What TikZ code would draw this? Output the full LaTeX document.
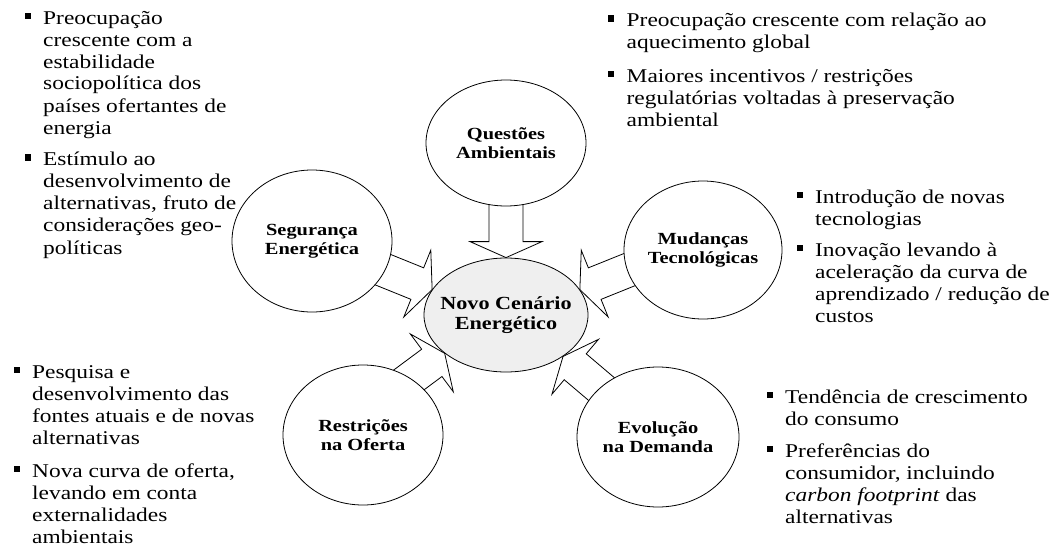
\documentclass[tikz,border=0pt]{standalone}
\usepackage{fontspec}
\setmainfont[FakeStretch=1.2]{Liberation Serif}
\usetikzlibrary{shapes.geometric,calc,backgrounds}

\definecolor{hubgrey}{RGB}{239,239,239}
\newcommand\blt{\rule[5.5pt]{6pt}{6pt}}

\tikzset{
  factor/.style={ellipse, draw, line width=0.8pt, fill=white, inner sep=-12pt,
    align=center, font=\fontsize{17}{19}\selectfont\bfseries},
  hub/.style={factor, fill=hubgrey, font=\fontsize{18.5}{20.5}\selectfont\bfseries},
  note/.style={anchor=base west, inner sep=0pt, font=\fontsize{19.5}{22}\selectfont},
  % hollow block arrow from a tail point to a tip point
  blockarrow/.style={draw, fill=white, line width=0.8pt, line join=miter,
    to path={
      let \p1=($(\tikztotarget)!16pt!(\tikztostart)$) in
      ($(\tikztostart)!17pt!90:(\tikztotarget)$)
      -- ($(\p1)!17pt!90:(\tikztotarget)$)
      -- ($(\p1)!36pt!90:(\tikztotarget)$)
      -- (\tikztotarget)
      -- ($(\p1)!36pt!-90:(\tikztotarget)$)
      -- ($(\p1)!17pt!-90:(\tikztotarget)$)
      -- ($(\tikztostart)!17pt!-90:(\tikztotarget)$)
      -- cycle}},
}

\begin{document}
\begin{tikzpicture}[x=1pt,y=-1pt]
\useasboundingbox (0,0) rectangle (1061,546);

% central theme and the five driving factors
\node[hub, minimum width=164pt, minimum height=114pt] (novo) at (506,315) {Novo Cenário\\Energético};
\node[factor, minimum width=160pt, minimum height=126pt] (questoes) at (506,143) {Questões\\Ambientais};
\node[factor, minimum width=160pt, minimum height=142pt] (seguranca) at (312,241) {Segurança\\Energética};
\node[factor, minimum width=158pt, minimum height=138pt] (mudancas) at (703,250) {Mudanças\\Tecnológicas};
\node[factor, minimum width=160pt, minimum height=140pt] (restricoes) at (363,435) {Restrições\\na Oferta};
\node[factor, minimum width=162pt, minimum height=140pt] (evolucao) at (658,437) {Evolução\\na Demanda};

\coordinate (mudTail) at ($(mudancas)+(0,-10)$);
\coordinate (resTail) at ($(restricoes)+(0,-21)$);

% block arrows pointing into the central theme
\begin{pgfonlayer}{background}
\draw[blockarrow] (questoes) to (novo.north);
\draw[blockarrow] (seguranca) to (novo.161);
\draw[blockarrow] (mudTail) to (novo.19);
\draw[blockarrow] (resTail) to (novo.212);
\draw[blockarrow] (evolucao) to (novo.324);
\end{pgfonlayer}

% bullet notes
\node[note] (notesSeg) at (24.5,24) {\begin{tabular}[t]{@{}l@{\hspace{12.5pt}}l@{}}
\blt & Preocupação\\
 & crescente com a\\
 & estabilidade\\
 & sociopolítica dos\\
 & países ofertantes de\\
 & energia\\[10pt]
\blt & Estímulo ao\\
 & desenvolvimento de\\
 & alternativas, fruto de\\
 & considerações geo-\\
 & políticas
\end{tabular}};

\node[note] (notesAmb) at (608,27) {\begin{tabular}[t]{@{}l@{\hspace{12.5pt}}l@{}}
\blt & Preocupação crescente com relação ao\\
 & aquecimento global\\[12pt]
\blt & Maiores incentivos / restrições\\
 & regulatórias voltadas à preservação\\
 & ambiental
\end{tabular}};

\node[note] (notesTec) at (796.5,203) {\begin{tabular}[t]{@{}l@{\hspace{12.5pt}}l@{}}
\blt & Introdução de novas\\
 & tecnologias\\[9pt]
\blt & Inovação levando à\\
 & aceleração da curva de\\
 & aprendizado / redução de\\
 & custos
\end{tabular}};

\node[note] (notesOf) at (13.5,378) {\begin{tabular}[t]{@{}l@{\hspace{12.5pt}}l@{}}
\blt & Pesquisa e\\
 & desenvolvimento das\\
 & fontes atuais e de novas\\
 & alternativas\\[11pt]
\blt & Nova curva de oferta,\\
 & levando em conta\\
 & externalidades\\
 & ambientais
\end{tabular}};

\node[note] (notesDem) at (766.5,403) {\begin{tabular}[t]{@{}l@{\hspace{12.5pt}}l@{}}
\blt & Tendência de crescimento\\
 & do consumo\\[10pt]
\blt & Preferências do\\
 & consumidor, incluindo\\
 & \textit{carbon footprint} das\\
 & alternativas
\end{tabular}};
\end{tikzpicture}
\end{document}
